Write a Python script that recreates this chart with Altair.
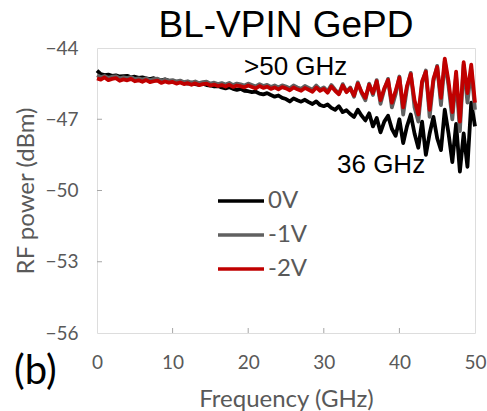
import altair as alt
import pandas as pd

# ---------------- data ----------------
freq = [round(i * 0.5, 1) for i in range(101)]  # GHz, 0.5 GHz sampling

power_0v = [
    -44.95, -45.10, -45.14, -45.12, -45.17, -45.15, -45.20, -45.18, -45.17, -45.23, -45.21,
    -45.26, -45.24, -45.28, -45.31, -45.27, -45.33, -45.36, -45.32, -45.38, -45.40,
    -45.43, -45.40, -45.47, -45.50, -45.46, -45.52, -45.55, -45.50, -45.56, -45.58,
    -45.62, -45.60, -45.66, -45.70, -45.65, -45.72, -45.76, -45.72, -45.80, -45.82,
    -45.86, -45.84, -45.92, -45.95, -45.90, -45.98, -46.05, -46.00, -46.10, -46.15,
    -46.25, -46.12, -46.20, -46.26, -46.18, -46.28, -46.36, -46.25, -46.40, -46.45,
    -46.38, -46.52, -46.60, -46.45, -46.70, -46.62, -46.78, -46.90, -46.60, -46.85,
    -47.05, -46.75, -47.30, -46.95, -47.55, -47.10, -46.85, -47.40, -47.70, -47.00,
    -48.00, -47.30, -46.80, -47.60, -48.20, -47.10, -48.50, -47.60, -46.90, -47.80,
    -48.30, -46.60, -47.60, -48.80, -47.20, -49.20, -47.60, -49.00, -46.30, -47.30,
]

power_1v = [
    -45.15, -45.22, -45.18, -45.26, -45.21, -45.19, -45.28, -45.24, -45.27, -45.22, -45.31,
    -45.28, -45.33, -45.27, -45.36, -45.31, -45.29, -45.38, -45.33, -45.37, -45.35,
    -45.41, -45.37, -45.44, -45.40, -45.46, -45.41, -45.48, -45.44, -45.42, -45.50,
    -45.46, -45.52, -45.48, -45.54, -45.47, -45.56, -45.50, -45.53, -45.58, -45.50,
    -45.56, -45.62, -45.52, -45.60, -45.55, -45.64, -45.58, -45.66, -45.57, -45.62,
    -45.70, -45.58, -45.66, -45.72, -45.60, -45.68, -45.76, -45.58, -45.74, -45.66,
    -45.82, -45.56, -45.76, -45.92, -45.52, -45.84, -45.66, -46.05, -45.45, -45.90,
    -46.20, -45.50, -45.98, -45.35, -46.35, -45.75, -45.30, -46.50, -45.95, -45.20,
    -46.80, -45.70, -45.05, -46.50, -47.10, -45.50, -44.95, -46.90, -45.40, -44.75,
    -46.40, -44.55, -45.60, -47.00, -45.20, -47.50, -44.70, -46.30, -44.90, -46.60,
]

power_2v = [
    -45.28, -45.33, -45.24, -45.35, -45.30, -45.27, -45.38, -45.32, -45.36, -45.30, -45.40,
    -45.36, -45.42, -45.35, -45.44, -45.40, -45.37, -45.47, -45.41, -45.46, -45.43,
    -45.50, -45.45, -45.52, -45.48, -45.55, -45.49, -45.56, -45.52, -45.50, -45.58,
    -45.54, -45.60, -45.56, -45.62, -45.55, -45.64, -45.58, -45.61, -45.66, -45.58,
    -45.64, -45.70, -45.60, -45.68, -45.63, -45.72, -45.66, -45.74, -45.65, -45.70,
    -45.78, -45.66, -45.74, -45.80, -45.68, -45.76, -45.84, -45.66, -45.80, -45.72,
    -45.88, -45.62, -45.80, -45.95, -45.58, -45.86, -45.70, -46.00, -45.50, -45.85,
    -46.10, -45.55, -45.90, -45.40, -46.20, -45.70, -45.35, -46.30, -45.80, -45.25,
    -46.50, -45.60, -45.10, -46.20, -46.80, -45.40, -45.00, -46.60, -45.30, -44.80,
    -46.10, -44.45, -45.40, -46.70, -45.00, -47.10, -44.60, -45.90, -44.70, -46.30,
]

series_names = ["0V", "-1V", "-2V"]
series_colors = ["#000000", "#606060", "#C00000"]
series_values = [power_0v, power_1v, power_2v]

x_tick_values = [0, 10, 20, 30, 40, 50]
y_tick_values = [-56, -53, -50, -47, -44]
x_inner_ticks = [10, 20, 30, 40]
y_inner_ticks = [-53, -50, -47]

title_text = "BL-VPIN GePD"
x_title = "Frequency (GHz)"
y_title = "RF power (dBm)"
note_high = ">50 GHz"
note_low = "36 GHz"
panel_label = "(b)"

# ---------------- chart ----------------
GRAY_TXT = "#595959"
AX_FONT = "Lato"
TXT_FONT = "Liberation Sans"

x_scale = alt.Scale(domain=[0, 50], nice=False, zero=False)
y_scale = alt.Scale(domain=[-56, -44], nice=False, zero=False)

x_axis = alt.Axis(
    values=x_tick_values, title=x_title, format="d",
    labelFont=AX_FONT, labelFontSize=19, labelColor=GRAY_TXT, labelPadding=20,
    titleFont=AX_FONT, titleFontSize=24, titleFontWeight="normal", titleColor=GRAY_TXT,
    titlePadding=15, ticks=False, tickSize=0, domain=False, grid=False, labelFlush=False,
)
y_axis = alt.Axis(
    values=y_tick_values, title=y_title, format="d",
    labelFont=AX_FONT, labelFontSize=19, labelColor=GRAY_TXT, labelPadding=19,
    titleFont=AX_FONT, titleFontSize=24, titleFontWeight="normal", titleColor=GRAY_TXT,
    titlePadding=6, ticks=False, tickSize=0, domain=False, grid=False, labelFlush=False,
)

X = alt.X("freq:Q", scale=x_scale, axis=x_axis)
Y = alt.Y("power:Q", scale=y_scale, axis=y_axis)

layers = []

# inner tick marks
xt = pd.DataFrame({"freq": x_inner_ticks})
layers.append(
    alt.Chart(xt).mark_rule(color="#a6a6a6", strokeWidth=1).encode(
        x=X, y=alt.value(285), y2=alt.value(280)
    )
)
yt = pd.DataFrame({"power": y_inner_ticks})
layers.append(
    alt.Chart(yt).mark_rule(color="#a6a6a6", strokeWidth=1).encode(
        y=Y, x=alt.value(0), x2=alt.value(5)
    )
)

# traces (black first, red on top)
for name, color, vals in zip(series_names, series_colors, series_values):
    d = pd.DataFrame({"freq": freq, "power": vals, "series": name})
    layers.append(
        alt.Chart(d).mark_line(color=color, strokeWidth=3.8, strokeJoin="round").encode(
            x=X, y=Y
        )
    )

# legend drawn inside the plot
for i, (name, color) in enumerate(zip(series_names, series_colors)):
    d = pd.DataFrame({"series": [name]})
    ypos = 153 + 34 * i
    layers.append(
        alt.Chart(d).mark_rule(color=color, strokeWidth=3.5).encode(
            x=alt.value(121), x2=alt.value(167), y=alt.value(ypos)
        )
    )
    layers.append(
        alt.Chart(d).mark_text(
            align="left", baseline="middle", font=AX_FONT, fontSize=24, color=GRAY_TXT
        ).encode(x=alt.value(171), y=alt.value(ypos), text="series:N")
    )

# title and annotations
layers.append(
    alt.Chart(pd.DataFrame({"t": [title_text]})).mark_text(
        align="center", baseline="alphabetic", font=TXT_FONT, fontSize=37, color="#000000"
    ).encode(x=alt.value(189), y=alt.value(-11), text="t:N")
)
layers.append(
    alt.Chart(pd.DataFrame({"t": [note_high]})).mark_text(
        align="left", baseline="alphabetic", font=TXT_FONT, fontSize=26, color="#000000"
    ).encode(x=alt.value(147), y=alt.value(27), text="t:N")
)
layers.append(
    alt.Chart(pd.DataFrame({"t": [note_low]})).mark_text(
        align="left", baseline="alphabetic", font=TXT_FONT, fontSize=26, color="#000000"
    ).encode(x=alt.value(240), y=alt.value(125), text="t:N")
)
layers.append(
    alt.Chart(pd.DataFrame({"t": [panel_label]})).mark_text(
        align="left", baseline="alphabetic", font=AX_FONT, fontSize=40, color="#000000"
    ).encode(x=alt.value(-83), y=alt.value(336), text="t:N")
)

chart = alt.layer(*layers).properties(
    width=378,
    height=285,
    autosize=alt.AutoSizeParams(type="none"),
    padding={"left": 97, "top": 48, "right": 12, "bottom": 78},
).configure_view(
    stroke="#000000", strokeWidth=3
).configure(background="white")

chart.save("out.html", embed_options={"renderer": "svg", "actions": False})
